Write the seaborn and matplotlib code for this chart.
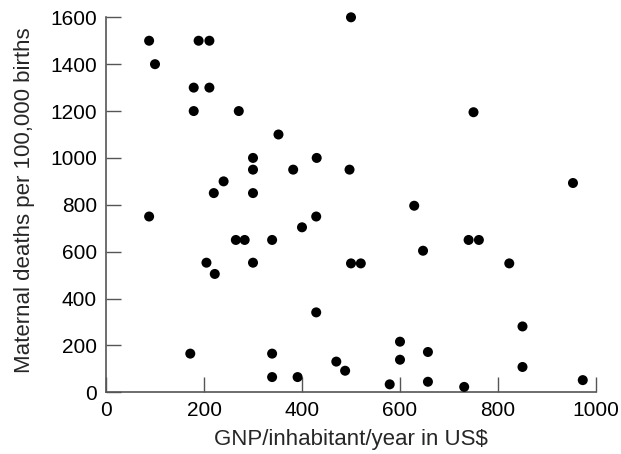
import matplotlib
matplotlib.use("Agg")
import matplotlib.pyplot as plt
import seaborn as sns
import pandas as pd

gnp = [88, 100, 189, 211, 179, 211, 179, 271, 352, 300, 300, 430, 382, 497,
       240, 220, 300, 88, 429, 500, 750, 953, 629, 205, 222, 265, 283, 300,
       339, 400, 429, 172, 339, 339, 391, 470, 488, 500, 520, 647, 740, 761,
       823, 850, 850, 600, 600, 657, 657, 579, 731, 973]
deaths = [1500, 1400, 1500, 1500, 1300, 1300, 1200, 1200, 1100, 1000, 950, 1000,
          950, 950, 900, 850, 850, 750, 750, 1600, 1195, 893, 796, 553, 505, 650,
          650, 553, 650, 704, 341, 165, 165, 65, 65, 131, 92, 550, 550, 604, 650,
          650, 550, 281, 108, 216, 139, 172, 45, 34, 23, 52]

x_ticks = [0, 200, 400, 600, 800, 1000]
y_ticks = [0, 200, 400, 600, 800, 1000, 1200, 1400, 1600]
x_label = "GNP/inhabitant/year in US$"
y_label = "Maternal deaths per 100,000 births"

df = pd.DataFrame({"gnp": gnp, "deaths": deaths})

sns.set_style("white")
plt.rcParams["font.family"] = ["Liberation Sans", "DejaVu Sans"]

fig = plt.figure(figsize=(6.21, 4.54), dpi=100)
ax = fig.add_axes([106 / 621, 1 - 392.3 / 454, 490 / 621, 375 / 454])

sns.scatterplot(data=df, x="gnp", y="deaths", ax=ax, color="black", s=52,
                edgecolor="none", clip_on=False, zorder=3)

ax.set_xlim(0, 1000)
ax.set_ylim(0, 1600)
ax.set_xticks(x_ticks)
ax.set_yticks(y_ticks)
ax.set_xlabel(x_label, fontsize=16)
ax.set_ylabel(y_label, fontsize=16)
ax.xaxis.set_label_coords(0.5, -47.5 / 375, transform=None) if False else None
ax.tick_params(axis="both", direction="in", length=10.8, width=1.0,
               color="#555555", labelsize=15, labelcolor="black", pad=6.5,
               bottom=True, left=True)
for side in ["top", "right"]:
    ax.spines[side].set_visible(False)
for side in ["left", "bottom"]:
    ax.spines[side].set_color("#555555")
    ax.spines[side].set_linewidth(1.2)

# label placement in figure pixels
ax.xaxis.set_label_coords((351 - 106) / 490, (392.3 - 440) / 375)
ax.xaxis.label.set_va("center")
ax.yaxis.set_label_coords((25 - 106) / 490, (392.3 - 200) / 375)
ax.yaxis.label.set_va("center")

fig.savefig("out.png", dpi=100)
